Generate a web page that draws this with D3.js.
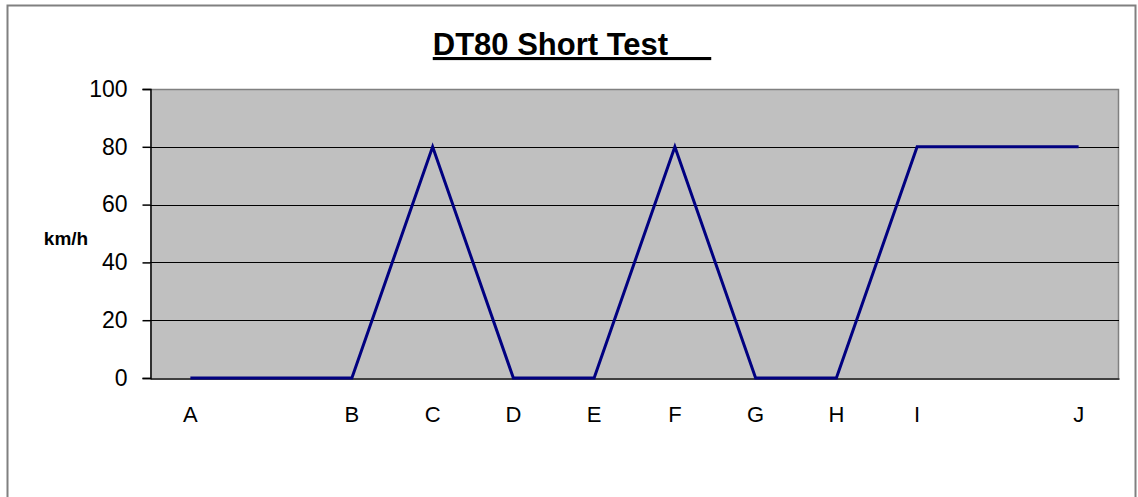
<!DOCTYPE html>
<html>
<head>
<meta charset="utf-8">
<script src="https://cdn.jsdelivr.net/npm/d3@7"></script>
<style>
  body { margin: 0; background: #fff; }
  text { font-family: Arial, "Liberation Sans", sans-serif; }
</style>
</head>
<body>
<div id="chart"></div>
<script>
var width = 1138;
var height = 497;

// category slots (blank slots keep the uneven spacing of the original)
var categories = ["A", "", "B", "C", "D", "E", "F", "G", "H", "I", "", "J"];
var speeds = [0, null, 0, 80, 0, 0, 80, 0, 0, 80, null, 80];
var yTicks = [0, 20, 40, 60, 80, 100];

var plot = { left: 150, top: 89, right: 1119, bottom: 378 };

var svg = d3.select("#chart").append("svg")
    .attr("width", width)
    .attr("height", height);

// outer chart border
svg.append("rect")
    .attr("x", 7.5).attr("y", 5.5)
    .attr("width", 1128).attr("height", 500)
    .attr("fill", "#fff")
    .attr("stroke", "#808080")
    .attr("stroke-width", 2);

var xScale = d3.scaleBand().domain(d3.range(categories.length))
    .range([plot.left, plot.right]);
var yScale = d3.scaleLinear().domain([0, 100]).range([plot.bottom, plot.top]);

// plot area
svg.append("rect")
    .attr("x", plot.left).attr("y", plot.top)
    .attr("width", plot.right - plot.left).attr("height", plot.bottom - plot.top)
    .attr("fill", "#c0c0c0");

// gray frame on top/right
svg.append("path")
    .attr("d", `M${plot.left},${plot.top + 0.5}H${plot.right - 0.5}V${plot.bottom}`)
    .attr("fill", "none")
    .attr("stroke", "#808080")
    .attr("stroke-width", 1.5);

// gridlines
svg.selectAll(".grid")
    .data(yTicks.filter(d => d > 0 && d < 100))
    .enter().append("line")
    .attr("class", "grid")
    .attr("x1", plot.left).attr("x2", plot.right)
    .attr("y1", d => Math.round(yScale(d)) + 0.5)
    .attr("y2", d => Math.round(yScale(d)) + 0.5)
    .attr("stroke", "#000")
    .attr("stroke-width", 1);

// y axis
var yAxis = d3.axisLeft(yScale).tickValues(yTicks).tickSize(8).tickPadding(15);
var gy = svg.append("g")
    .attr("transform", `translate(${plot.left + 0.5},0)`)
    .call(yAxis);
gy.select(".domain").attr("stroke", "#000").attr("stroke-width", 1.5);
gy.selectAll(".tick line").attr("stroke", "#000").attr("stroke-width", 1.5);
gy.selectAll(".tick text")
    .attr("font-size", 23)
    .attr("font-family", "Arial, 'Liberation Sans', sans-serif")
    .attr("fill", "#000");

// x axis
var xAxis = d3.axisBottom(xScale).tickFormat(i => categories[i]).tickSize(0).tickPadding(28);
var gx = svg.append("g")
    .attr("transform", `translate(0,${plot.bottom + 0.5})`)
    .call(xAxis);
gx.select(".domain").attr("stroke", "#000").attr("stroke-width", 1.5);
gx.selectAll(".tick text")
    .attr("font-size", 22)
    .attr("font-family", "Arial, 'Liberation Sans', sans-serif")
    .attr("fill", "#000");

// series line
var pts = speeds.map((v, i) => ({ i: i, v: v })).filter(d => d.v !== null);
var line = d3.line()
    .x(d => xScale(d.i) + xScale.bandwidth() / 2)
    .y(d => yScale(d.v));
svg.append("path")
    .datum(pts)
    .attr("d", line)
    .attr("fill", "none")
    .attr("stroke", "#000080")
    .attr("stroke-width", 3)
    .attr("stroke-linejoin", "miter");

// title
svg.append("text")
    .attr("x", 572).attr("y", 55)
    .attr("text-anchor", "middle")
    .attr("font-size", 31)
    .attr("font-weight", "bold")
    .attr("text-decoration", "underline")
    .style("white-space", "pre")
    .text("DT80 Short Test     ");

// axis title
svg.append("text")
    .attr("x", 66).attr("y", 245)
    .attr("text-anchor", "middle")
    .attr("font-size", 19)
    .attr("font-weight", "bold")
    .text("km/h");
</script>
</body>
</html>
